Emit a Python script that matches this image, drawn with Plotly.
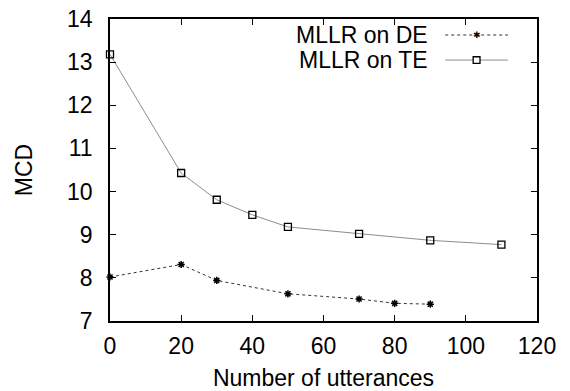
import plotly.graph_objects as go

# Data
de_name = "MLLR on DE"
te_name = "MLLR on TE"
de_x = [0, 20, 30, 50, 70, 80, 90]
de_y = [8.02, 8.31, 7.94, 7.63, 7.51, 7.41, 7.39]
te_x = [0, 20, 30, 40, 50, 70, 90, 110]
te_y = [13.18, 10.43, 9.81, 9.46, 9.18, 9.02, 8.87, 8.77]
x_ticks = [0, 20, 40, 60, 80, 100, 120]
y_ticks = [7, 8, 9, 10, 11, 12, 13, 14]

FONT = "Liberation Sans, Arial, sans-serif"
FS = 23
DE_COLOR = "#333333"
TE_COLOR = "#8c8c8c"

fig = go.Figure()
fig.add_trace(go.Scatter(
    x=de_x, y=de_y, mode="lines+markers", name=de_name, showlegend=False,
    line=dict(color=DE_COLOR, width=1, dash="dot"),
    marker=dict(symbol="asterisk", size=6, color="black", line=dict(color="black", width=1.5)),
    cliponaxis=False,
))
fig.add_trace(go.Scatter(
    x=te_x, y=te_y, mode="lines+markers", name=te_name, showlegend=False,
    line=dict(color=TE_COLOR, width=1),
    marker=dict(symbol="square-open", size=7, color="black", line=dict(color="black", width=1.3)),
    cliponaxis=False,
))

# Custom legend (text on the left, sample on the right, like gnuplot)
legend_rows = [(de_name, 0.947, DE_COLOR, "dot"), (te_name, 0.864, TE_COLOR, "solid")]
x_text_end = 0.749
x_line0, x_line1 = 0.785, 0.932
for name, yy, col, dash in legend_rows:
    fig.add_annotation(xref="paper", yref="paper", x=x_text_end, y=yy, text=name,
                       showarrow=False, xanchor="right", yanchor="middle",
                       font=dict(family=FONT, size=FS, color="black"))
    fig.add_shape(type="line", xref="paper", yref="paper", x0=x_line0, x1=x_line1,
                  y0=yy, y1=yy, line=dict(color=col, width=1, dash=dash))

xm = (x_line0 + x_line1) / 2
fig.add_annotation(xref="paper", yref="paper", x=xm, y=legend_rows[0][1], text="✱",
                   showarrow=False, xanchor="center", yanchor="middle",
                   font=dict(family="DejaVu Sans", size=9, color="black"))
fig.add_shape(type="rect", xref="paper", yref="paper",
              x0=xm - 0.008, x1=xm + 0.008, y0=legend_rows[1][1] - 0.011, y1=legend_rows[1][1] + 0.011,
              line=dict(color="black", width=1.3), fillcolor="white")

axis_common = dict(
    showline=True, linecolor="black", linewidth=1.5, mirror="ticks",
    ticks="inside", ticklen=6, tickcolor="black", tickwidth=1,
    showgrid=False, zeroline=False, automargin=False,
    ticklabeloverflow="allow",
    tickfont=dict(family=FONT, size=FS, color="black"),
)
fig.update_xaxes(range=[0, 120], tickvals=x_ticks, ticktext=[str(v) for v in x_ticks],
                 ticklabelstandoff=4,
                 title=dict(text="Number of utterances", font=dict(family=FONT, size=FS, color="black"), standoff=13),
                 **axis_common)
fig.update_yaxes(range=[7, 14], tickvals=y_ticks, ticktext=[str(v) for v in y_ticks],
                 ticklabelstandoff=11,
                 title=dict(text="MCD", font=dict(family=FONT, size=FS, color="black"), standoff=28),
                 **axis_common)

fig.update_layout(
    width=570, height=391,
    margin=dict(l=110, r=33, t=19, b=70),
    plot_bgcolor="white", paper_bgcolor="white",
    font=dict(family=FONT, color="black"),
    hovermode=False,
)

# Remove the browser's default 8px body margin so the figure fills the window exactly.
fig.write_html("out.html", config={"displayModeBar": False},
               post_script="document.body.style.margin='0';")
